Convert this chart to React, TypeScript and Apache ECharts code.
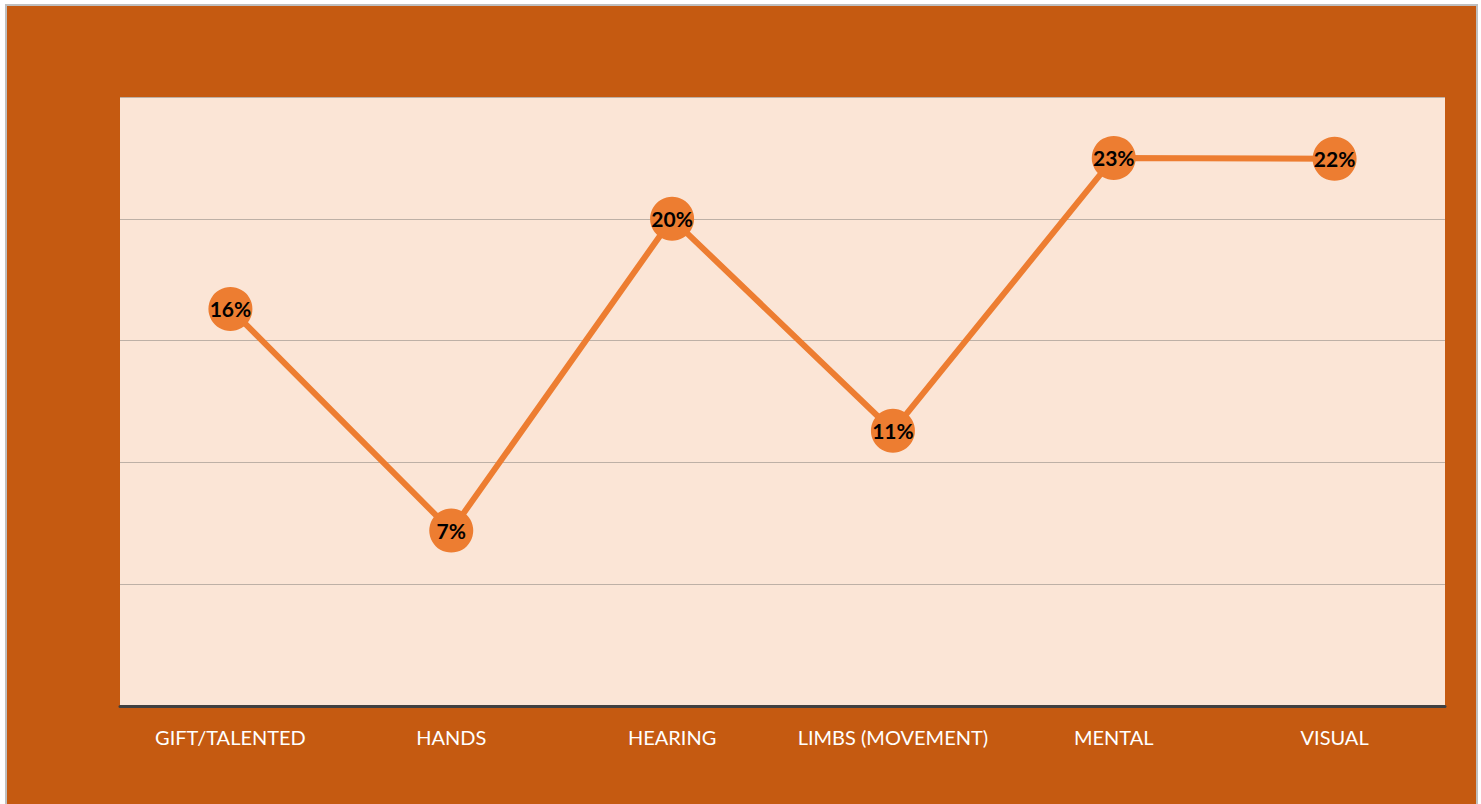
import React, { useEffect, useRef } from "react";
import * as echarts from "echarts";

const categories = ["GIFT/TALENTED", "HANDS", "HEARING", "LIMBS (MOVEMENT)", "MENTAL", "VISUAL"];
const values = [16.3, 7.2, 20.0, 11.3, 22.5, 22.46];
const yMin = 0;
const yMax = 25;
const yInterval = 5;

export default function App() {
  const ref = useRef<HTMLDivElement>(null);
  useEffect(() => {
    document.body.style.margin = "0";
    const chart = echarts.init(ref.current!, null, { renderer: "svg" });
    chart.setOption({
      animation: false,
      backgroundColor: "#FFFFFF",
      graphic: [
        {
          type: "rect",
          z: -10,
          shape: { x: 6, y: 5, width: 1471, height: 805 },
          style: { fill: "#C55A11", stroke: "#BFBFBF", lineWidth: 2 },
        },
      ],
      grid: {
        left: 120,
        right: 36,
        top: 97,
        bottom: 98,
        show: true,
        backgroundColor: "#FBE5D6",
        borderWidth: 0,
      },
      xAxis: {
        type: "category",
        data: categories,
        boundaryGap: true,
        axisLine: { show: true, lineStyle: { color: "#404040", width: 3 } },
        axisTick: { show: false },
        axisLabel: {
          color: "#FFFFFF",
          fontSize: 20,
          fontFamily: "Lato, 'Open Sans', sans-serif",
          margin: 21,
          interval: 0,
        },
      },
      yAxis: {
        type: "value",
        min: yMin,
        max: yMax,
        interval: yInterval,
        axisLabel: { show: false },
        axisLine: { show: false },
        axisTick: { show: false },
        splitLine: { show: true, lineStyle: { color: "#BDB0A6", width: 1 } },
      },
      series: [
        {
          type: "line",
          data: values,
          symbol: "circle",
          symbolSize: 44,
          lineStyle: { color: "#ED7D31", width: 6 },
          itemStyle: { color: "#ED7D31", borderWidth: 0 },
          label: {
            show: true,
            position: "inside",
            color: "#000000",
            fontSize: 21,
            fontWeight: "bold",
            fontFamily: "Lato, 'Open Sans', sans-serif",
            formatter: (p: any) => `${Math.round(p.value)}%`,
          },
        },
      ],
    });
    return () => chart.dispose();
  }, []);
  return <div ref={ref} style={{ position: "absolute", left: 0, top: 0, width: 1481, height: 804 }} />;
}
